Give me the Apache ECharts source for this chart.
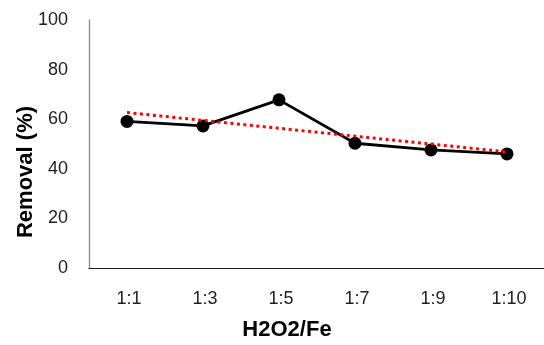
<!DOCTYPE html>
<html>
<head>
<meta charset="utf-8">
<script src="https://cdn.jsdelivr.net/npm/echarts@6/dist/echarts.min.js"></script>
<style>html,body{margin:0;padding:0;background:#fff;}#c{width:544px;height:345px;}</style>
</head>
<body>
<div id="c"></div>
<script>
var categories = ['1:1', '1:3', '1:5', '1:7', '1:9', '1:10'];
var removal = [59.1, 57.3, 67.8, 50.3, 47.6, 46.0];
var trend = [62.7, null, null, null, null, 46.8];
var yTicks = [0, 20, 40, 60, 80, 100];

var chart = echarts.init(document.getElementById('c'), null, {renderer: 'canvas'});
chart.setOption({
  animation: false,
  grid: {left: 89, right: -1, top: 20, bottom: 77, containLabel: false, outerBoundsMode: 'none'},
  xAxis: {
    type: 'category',
    data: categories,
    boundaryGap: true,
    name: 'H2O2/Fe',
    nameLocation: 'middle',
    nameGap: 51,
    nameMoveOverlap: false,
    nameTextStyle: {fontFamily: 'Liberation Sans', fontWeight: 'bold', fontSize: 22, color: '#000', padding: [0, 60, 0, 0]},
    axisLine: {lineStyle: {color: '#222', width: 1.2}},
    axisTick: {show: false},
    axisLabel: {fontFamily: 'Liberation Sans', fontSize: 18, color: '#222', margin: 22, padding: [0, 0, 0, 4]},
    splitLine: {show: false}
  },
  yAxis: {
    type: 'value',
    min: yTicks[0],
    max: yTicks[yTicks.length - 1],
    interval: yTicks[1] - yTicks[0],
    name: 'Removal (%)',
    nameLocation: 'middle',
    nameGap: 52,
    nameMoveOverlap: false,
    nameTextStyle: {fontFamily: 'Liberation Sans', fontWeight: 'bold', fontSize: 22, color: '#000', padding: [0, 56, 0, 0]},
    axisLine: {show: true, lineStyle: {color: '#888', width: 1.3}},
    axisTick: {show: false},
    axisLabel: {fontFamily: 'Liberation Sans', fontSize: 18, color: '#222', margin: 21},
    splitLine: {show: false}
  },
  series: [
    {
      type: 'line',
      data: removal,
      symbol: 'circle',
      symbolSize: 13,
      itemStyle: {color: '#000'},
      lineStyle: {color: '#000', width: 2.8},
      z: 3
    },
    {
      type: 'line',
      data: trend,
      connectNulls: true,
      symbol: 'none',
      lineStyle: {color: '#ff0000', width: 3, type: [3, 3.5], cap: 'butt'},
      z: 4
    }
  ]
});
</script>
</body>
</html>
